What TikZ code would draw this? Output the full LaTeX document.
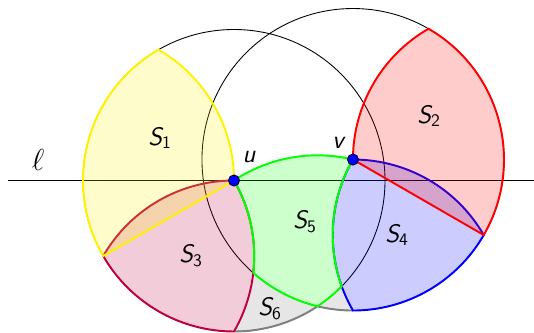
\documentclass[tikz,border=0pt]{standalone}
\usetikzlibrary{calc}
\newcommand{\rad}{151}

\begin{document}
\begin{tikzpicture}[x=0.02cm,y=0.02cm,
thinline/.style={line width=0.5pt},
region/.style={line width=1.1pt,fill opacity=0.2},
dot/.style={circle,draw=black,fill=blue,inner sep=0pt,minimum size=6.4pt},
lab/.style={font=\Large\sffamily\slshape}]
\useasboundingbox (0,0) rectangle (534,332);
\coordinate (u) at (234,151.5);
\coordinate (v) at ($(u)+(10:120.8)$);
\coordinate (E) at ($(u)+(270:\rad)$);
\draw[thinline] ($(u)+(-226,0)$) -- ($(u)+(300,0)$);
\draw[thinline] (u) circle[radius=\rad] (v) circle[radius=\rad];
\fill[region,gray] (E) arc[start angle=270,end angle=303.58,radius=\rad]
  arc[start angle=256.42,end angle=270,radius=\rad]
  arc[start angle=210,end angle=199.85,radius=\rad]
  arc[start angle=-44.49,end angle=-56.42,radius=\rad]
  arc[start angle=256.42,end angle=228.68,radius=\rad]
  arc[start angle=-6.43,end angle=-30,radius=\rad] -- cycle;
\draw[line width=1.1pt,gray] (E) arc[start angle=270,end angle=303.58,radius=\rad]
  arc[start angle=256.42,end angle=270,radius=\rad];
\filldraw[region,purple] (u) arc[start angle=30,end angle=-30,radius=\rad]
  arc[start angle=270,end angle=210,radius=\rad]
  arc[start angle=150,end angle=90,radius=\rad] -- cycle;
\filldraw[region,yellow] (u) arc[start angle=0,end angle=60,radius=\rad]
  arc[start angle=120,end angle=210,radius=\rad] -- cycle;
\filldraw[region,blue] (v) arc[start angle=90,end angle=30,radius=\rad]
  arc[start angle=-30,end angle=-90,radius=\rad]
  arc[start angle=210,end angle=150,radius=\rad] -- cycle;
\filldraw[region,red] (v) arc[start angle=180,end angle=120,radius=\rad]
  arc[start angle=60,end angle=-30,radius=\rad] -- cycle;
\filldraw[region,green] (u) arc[start angle=123.58,end angle=76.42,radius=\rad]
  arc[start angle=150,end angle=199.85,radius=\rad]
  arc[start angle=-44.49,end angle=-56.42,radius=\rad]
  arc[start angle=256.42,end angle=228.68,radius=\rad]
  arc[start angle=-6.43,end angle=30,radius=\rad] -- cycle;
\node[dot] (du) at (u) {};
\node[dot] (dv) at (v) {};
\node[font=\LARGE] (ell) at (38,172) {$\ell$};
\node[lab] (lu) at (249,175) {u};
\node[lab] (lv) at (338,189) {v};
\node[lab] (s1) at (160,194) {S\textsubscript{\upshape 1}};
\node[lab] (s2) at (429,216) {S\textsubscript{\upshape 2}};
\node[lab] (s3) at (191,76) {S\textsubscript{\upshape 3}};
\node[lab] (s4) at (397,97) {S\textsubscript{\upshape 4}};
\node[lab] (s5) at (305,110) {S\textsubscript{\upshape 5}};
\node[lab] (s6) at (270,23) {S\textsubscript{\upshape 6}};
\end{tikzpicture}
\end{document}
